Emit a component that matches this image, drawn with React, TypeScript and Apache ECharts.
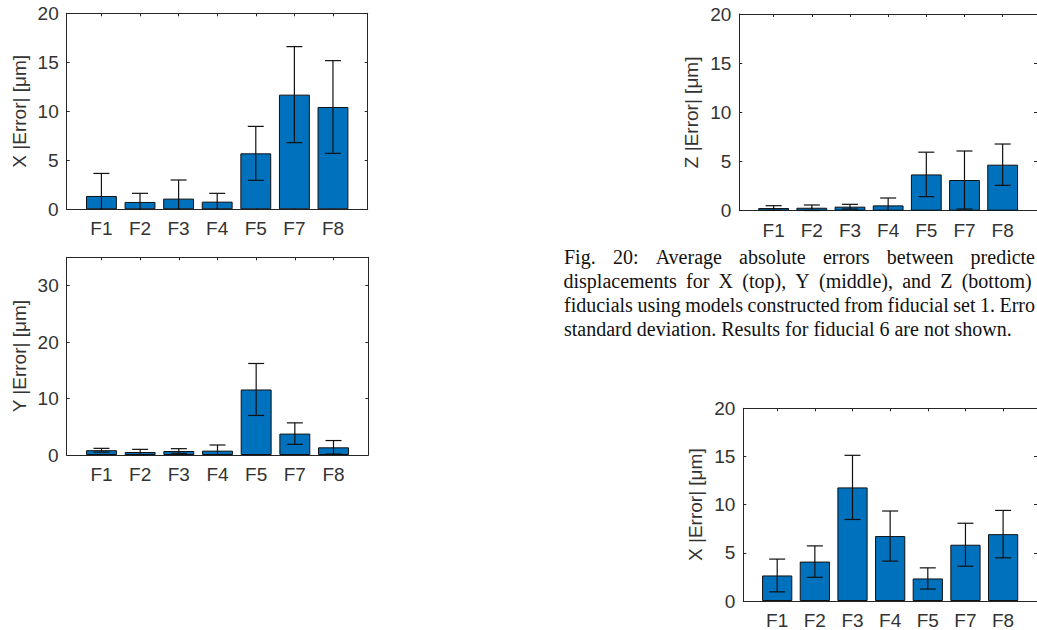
import React, { useEffect, useRef } from "react";
import * as echarts from "echarts";

const categories = ["F1", "F2", "F3", "F4", "F5", "F7", "F8"];
const catPositions = [1, 2, 3, 4, 5, 6, 7];

// Top-left: X error (set 1)
const xTopMean = [1.36, 0.75, 1.09, 0.78, 5.71, 11.7, 10.44];
const xTopStd = [2.3, 0.88, 1.9, 0.85, 2.75, 4.9, 4.73];
// Middle-left: Y error
const yMean = [0.85, 0.53, 0.71, 0.77, 11.6, 3.79, 1.36];
const yStd = [0.33, 0.47, 0.41, 1.0, 4.6, 1.9, 1.2];
// Top-right: Z error
const zMean = [0.27, 0.3, 0.41, 0.54, 3.69, 3.12, 4.68];
const zStd = [0.24, 0.28, 0.24, 0.75, 2.26, 2.95, 2.1];
// Bottom-right: X error (next figure)
const x2Mean = [2.65, 4.09, 11.79, 6.74, 2.34, 5.84, 6.94];
const x2Std = [1.7, 1.63, 3.33, 2.6, 1.1, 2.23, 2.46];

const yTicks20 = [0, 5, 10, 15, 20];
const yTicks35 = [0, 10, 20, 30];

const captionLine1 = ["Fig.", "20:", "Average", "absolute", "errors", "between", "predicte"];
const captionLine2 = ["displacements", "for", "X", "(top),", "Y", "(middle),", "and", "Z", "(bottom)"];
const captionLine3 = ["fiducials", "using", "models", "constructed", "from", "fiducial", "set", "1.", "Erro"];
const captionLine4 = "standard deviation. Results for fiducial 6 are not shown.";

const AX = "#262626";
const LBL = "#333333";
const SANS = "Liberation Sans";
const SERIF = "Liberation Serif";

type Panel = {
  left: number;
  top: number;
  width: number;
  height: number;
  yMax: number;
  yTicks: number[];
  name: string;
  mean: number[];
  std: number[];
};

const panels: Panel[] = [
  { left: 66.7, top: 13.3, width: 301, height: 196, yMax: 20, yTicks: yTicks20, name: "X |Error| [μm]", mean: xTopMean, std: xTopStd },
  { left: 66.7, top: 257.3, width: 301.6, height: 197.7, yMax: 35, yTicks: yTicks35, name: "Y |Error| [μm]", mean: yMean, std: yStd },
  { left: 739.3, top: 14, width: 300.3, height: 196.7, yMax: 20, yTicks: yTicks20, name: "Z |Error| [μm]", mean: zMean, std: zStd },
  { left: 743.3, top: 408.3, width: 294.8, height: 194, yMax: 20, yTicks: yTicks20, name: "X |Error| [μm]", mean: x2Mean, std: x2Std },
];

function textWidth(t: string, font: string): number {
  const c = document.createElement("canvas").getContext("2d");
  if (!c) return t.length * 9;
  c.font = font;
  return c.measureText(t).width;
}

function justifiedWords(words: string[], x0: number, x1: number, y: number, font: string) {
  const widths = words.map((w) => textWidth(w, font));
  const total = widths.reduce((a, b) => a + b, 0);
  const gap = (x1 - x0 - total) / (words.length - 1);
  let x = x0;
  return words.map((w, i) => {
    const el = {
      type: "text",
      x,
      y,
      style: { text: w, font, fill: "#111", verticalAlign: "middle", align: "left" },
    };
    x += widths[i] + gap;
    return el;
  });
}

export default function App() {
  const ref = useRef<HTMLDivElement>(null);
  useEffect(() => {
    if (!ref.current) return;
    const chart = echarts.init(ref.current, null, { renderer: "svg" });

    const grid: any[] = [];
    const xAxis: any[] = [];
    const yAxis: any[] = [];
    const series: any[] = [];

    panels.forEach((p, i) => {
      grid.push({ left: p.left, top: p.top, width: p.width, height: p.height, containLabel: false });
      const xBase = {
        type: "value",
        gridIndex: i,
        min: 0.1,
        max: 7.9,
        splitLine: { show: false },
        axisLine: { show: true, onZero: false, lineStyle: { color: AX, width: 1 } },
      };
      xAxis.push({
        ...xBase,
        position: "bottom",
        axisTick: { show: true, inside: true, length: 3, customValues: catPositions, lineStyle: { color: AX } },
        axisLabel: {
          show: true,
          customValues: catPositions,
          margin: 10,
          color: LBL,
          fontFamily: SANS,
          fontSize: 19,
          formatter: (v: number) => categories[Math.round(v) - 1] ?? "",
        },
      });
      xAxis.push({
        ...xBase,
        position: "top",
        axisTick: { show: true, inside: true, length: 3, customValues: catPositions, lineStyle: { color: AX } },
        axisLabel: { show: false },
      });
      const yBase = {
        type: "value",
        gridIndex: i,
        min: 0,
        max: p.yMax,
        splitLine: { show: false },
        axisLine: { show: true, onZero: false, lineStyle: { color: AX, width: 1 } },
      };
      yAxis.push({
        ...yBase,
        position: "left",
        name: p.name,
        nameLocation: "middle",
        nameRotate: 90,
        nameGap: 38,
        nameTextStyle: { color: LBL, fontFamily: SANS, fontSize: 19 },
        axisTick: { show: true, inside: true, length: 3, customValues: p.yTicks, lineStyle: { color: AX } },
        axisLabel: { show: true, customValues: p.yTicks, margin: 8, color: LBL, fontFamily: SANS, fontSize: 19 },
      });
      yAxis.push({
        ...yBase,
        position: "right",
        axisTick: { show: true, inside: true, length: 3, customValues: p.yTicks, lineStyle: { color: AX } },
        axisLabel: { show: false },
      });

      const bw = (0.8 * p.width) / 7.8;
      series.push({
        type: "bar",
        xAxisIndex: i * 2,
        yAxisIndex: i * 2,
        barWidth: bw,
        data: p.mean.map((m, k) => [catPositions[k], m]),
        itemStyle: { color: "#0072BD", borderColor: "#111", borderWidth: 1 },
        z: 2,
      });
      series.push({
        type: "custom",
        xAxisIndex: i * 2,
        yAxisIndex: i * 2,
        z: 5,
        data: p.mean.map((m, k) => [catPositions[k], m, p.std[k]]),
        renderItem: (params: any, api: any) => {
          const x = api.value(0);
          const m = api.value(1);
          const s = api.value(2);
          const loRaw = m - s;
          const lo = Math.max(loRaw, 0);
          const hi = m + s;
          const pt = api.coord([x, hi]);
          const pb = api.coord([x, lo]);
          const half = 8;
          const st = { stroke: "#111", lineWidth: 1.2 };
          const children: any[] = [
            { type: "line", shape: { x1: pt[0], y1: pt[1], x2: pb[0], y2: pb[1] }, style: st },
            { type: "line", shape: { x1: pt[0] - half, y1: pt[1], x2: pt[0] + half, y2: pt[1] }, style: st },
          ];
          if (loRaw >= 0) {
            children.push({ type: "line", shape: { x1: pb[0] - half, y1: pb[1], x2: pb[0] + half, y2: pb[1] }, style: st });
          }
          return { type: "group", children };
        },
      });
    });

    const capFont = `20px "${SERIF}"`;
    const graphic: any[] = [
      ...justifiedWords(captionLine1, 564, 1035, 257, capFont),
      ...justifiedWords(captionLine2, 563.5, 1031.7, 281, capFont),
      ...justifiedWords(captionLine3, 564, 1035, 305, capFont),
      { type: "text", x: 564, y: 329, style: { text: captionLine4, font: capFont, fill: "#111", verticalAlign: "middle", align: "left" } },
    ];

    chart.setOption({
      animation: false,
      backgroundColor: "#ffffff",
      grid,
      xAxis,
      yAxis,
      series,
      graphic,
    });
    return () => chart.dispose();
  }, []);

  return (
    <div
      ref={ref}
      style={{ position: "fixed", left: 0, top: 0, width: 1037, height: 630, background: "#fff" }}
    />
  );
}
